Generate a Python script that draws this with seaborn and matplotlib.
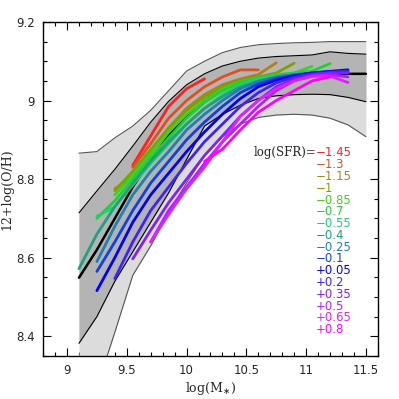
import numpy as np
import pandas as pd
import matplotlib
matplotlib.use("Agg")
import matplotlib.pyplot as plt
import seaborn as sns

# mass grid of the binned relations
mass = [9.1, 9.25, 9.4, 9.55, 9.7, 9.85, 10.0, 10.15, 10.3, 10.45, 10.6,
        10.75, 10.9, 11.05, 11.2, 11.35, 11.5]

# percentile bands and median of the whole sample
outer_hi = [8.866, 8.870, 8.905, 8.935, 8.975, 9.025, 9.075, 9.100, 9.122, 9.135,
            9.142, 9.145, 9.147, 9.148, 9.150, 9.150, 9.150]
inner_hi = [8.714, 8.770, 8.825, 8.884, 8.945, 8.998, 9.040, 9.068, 9.088, 9.100,
            9.108, 9.112, 9.114, 9.116, 9.124, 9.120, 9.118]
median = [8.549, 8.620, 8.700, 8.780, 8.850, 8.910, 8.960, 9.000, 9.030, 9.048,
          9.058, 9.063, 9.066, 9.067, 9.068, 9.068, 9.068]
inner_lo = [8.382, 8.450, 8.540, 8.615, 8.690, 8.765, 8.850, 8.935, 8.965, 8.988,
            9.005, 9.012, 9.015, 9.016, 9.015, 9.008, 8.997]
outer_lo = [8.150, 8.270, 8.410, 8.555, 8.630, 8.715, 8.790, 8.860, 8.908, 8.940,
            8.957, 8.963, 8.965, 8.963, 8.955, 8.938, 8.908]

# metallicity at fixed SFR; first value belongs to the start mass
sfr_labels = ["\u22121.45", "\u22121.3", "\u22121.15", "\u22121", "\u22120.85", "\u22120.7",
              "\u22120.55", "\u22120.4", "\u22120.25", "\u22120.1", "+0.05", "+0.2",
              "+0.35", "+0.5", "+0.65", "+0.8"]
sfr_colors = ["#ff2020", "#e05020", "#b08020", "#80a000", "#40d020", "#20d030",
              "#20d070", "#20a080", "#2080b0", "#1040e0", "#0000ff", "#4020ff",
              "#8020ff", "#b020ff", "#e020ff", "#ff00ff"]
sfr_start = [9.55, 9.55, 9.4, 9.4, 9.4, 9.25, 9.25, 9.1, 9.25, 9.25, 9.25, 9.4,
             9.55, 9.7, 9.7, 10.15]
sfr_oh = [
    [8.835, 8.910, 8.985, 9.030, 9.055],
    [8.830, 8.890, 8.955, 9.000, 9.035, 9.060, 9.078, 9.078],
    [8.775, 8.810, 8.870, 8.930, 8.980, 9.015, 9.040, 9.055, 9.066, 9.096],
    [8.770, 8.820, 8.875, 8.930, 8.975, 9.010, 9.035, 9.050, 9.060, 9.070, 9.095],
    [8.760, 8.810, 8.865, 8.920, 8.965, 9.000, 9.030, 9.048, 9.058, 9.065, 9.070, 9.087],
    [8.700, 8.745, 8.800, 8.855, 8.905, 8.955, 8.995, 9.025, 9.045, 9.058, 9.065,
     9.070, 9.075, 9.094],
    [8.705, 8.730, 8.785, 8.840, 8.890, 8.940, 8.980, 9.015, 9.040, 9.055, 9.063,
     9.068, 9.072, 9.075, 9.078],
    [8.572, 8.660, 8.730, 8.790, 8.845, 8.895, 8.940, 8.980, 9.010, 9.035, 9.050,
     9.060, 9.066, 9.070, 9.073, 9.075],
    [8.590, 8.680, 8.760, 8.820, 8.870, 8.925, 8.965, 9.000, 9.030, 9.048, 9.060,
     9.066, 9.070, 9.073, 9.075],
    [8.565, 8.640, 8.720, 8.790, 8.845, 8.900, 8.945, 8.985, 9.020, 9.042, 9.056,
     9.064, 9.070, 9.073, 9.075],
    [8.516, 8.600, 8.690, 8.760, 8.815, 8.870, 8.920, 8.965, 9.005, 9.035, 9.052,
     9.063, 9.070, 9.074, 9.078],
    [8.547, 8.640, 8.720, 8.780, 8.840, 8.895, 8.940, 8.985, 9.020, 9.045, 9.060,
     9.068, 9.072, 9.075],
    [8.597, 8.670, 8.740, 8.800, 8.860, 8.910, 8.960, 9.000, 9.035, 9.055, 9.066,
     9.070, 9.070],
    [8.640, 8.720, 8.780, 8.840, 8.895, 8.940, 8.985, 9.025, 9.050, 9.062, 9.066, 9.060],
    [8.640, 8.710, 8.775, 8.830, 8.895, 8.960, 9.000, 9.030, 9.050, 9.062, 9.062, 9.046],
    [8.845, 8.876, 8.925, 8.970, 9.000, 9.025, 9.050, 9.060],
]

rows = []
for lab, start, vals in zip(sfr_labels, sfr_start, sfr_oh):
    i0 = mass.index(start)
    for m, v in zip(mass[i0:i0 + len(vals)], vals):
        rows.append({"logM": m, "OH": v, "sfr": lab})
df = pd.DataFrame(rows)

sns.set_style("ticks")
plt.rcParams["font.family"] = ["DejaVu Sans"]

fig = plt.figure(figsize=(3.99, 3.99), dpi=100)
ax = fig.add_axes([0.108, 0.108, 0.839, 0.837])

ax.fill_between(mass, outer_lo, outer_hi, color="#dcdcdc", lw=0, zorder=1)
ax.fill_between(mass, inner_lo, inner_hi, color="#b4b4b4", lw=0, zorder=1)
for band in (outer_lo, outer_hi):
    ax.plot(mass, band, color="#555555", lw=0.8, zorder=2)
for band in (inner_lo, inner_hi):
    ax.plot(mass, band, color="black", lw=0.8, zorder=2)
ax.plot(mass, median, color="black", lw=1.8, zorder=2)

sns.lineplot(data=df, x="logM", y="OH", hue="sfr", hue_order=sfr_labels,
             palette=dict(zip(sfr_labels, sfr_colors)), estimator=None, sort=False,
             lw=2.0, legend=False, ax=ax, zorder=3)

ax.set_xlim(8.8, 11.6)
ax.set_ylim(8.35, 9.2)
ax.set_xticks([9, 9.5, 10, 10.5, 11, 11.5])
ax.set_xticklabels(["9", "9.5", "10", "10.5", "11", "11.5"])
ax.set_yticks([8.4, 8.6, 8.8, 9.0, 9.2])
ax.set_yticklabels(["8.4", "8.6", "8.8", "9", "9.2"])
ax.xaxis.set_minor_locator(matplotlib.ticker.MultipleLocator(0.1))
ax.yaxis.set_minor_locator(matplotlib.ticker.MultipleLocator(0.05))
ax.tick_params(which="both", direction="in", top=True, right=True, labelsize=8.5,
               color="black", width=0.8)
ax.tick_params(which="major", length=6, pad=6)
ax.tick_params(which="minor", length=3)
for s in ax.spines.values():
    s.set_linewidth(1.0)
    s.set_color("black")

ax.set_xlabel(r"log(M$_{\ast}$)", family="DejaVu Serif", fontsize=9, labelpad=2)
ax.set_ylabel("12+log(O/H)", family="DejaVu Serif", fontsize=9, labelpad=2)

x0, y0, dy = 0.815, 0.608, 0.0353
ax.text(x0, y0, "log(SFR)=", transform=ax.transAxes, ha="right", va="center",
        family="DejaVu Serif", fontsize=8.5)
for k, (lab, col) in enumerate(zip(sfr_labels, sfr_colors)):
    ax.text(x0, y0 - k * dy, lab, transform=ax.transAxes, ha="left", va="center",
            color=col, fontsize=8.5)

fig.savefig("out.png", dpi=100)
